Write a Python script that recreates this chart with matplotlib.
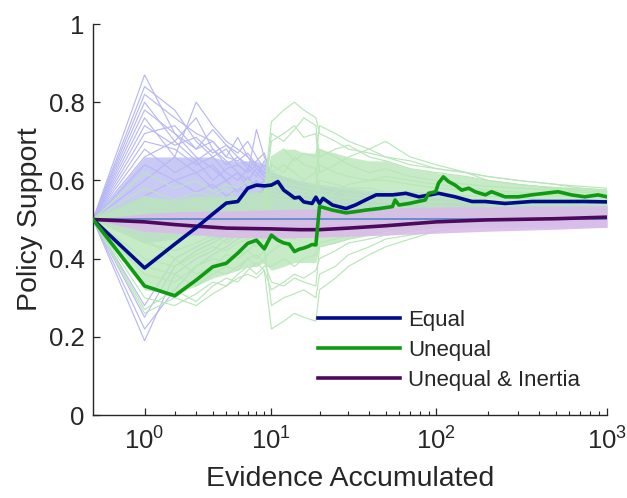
import numpy as np
import matplotlib
matplotlib.use("Agg")
import matplotlib.pyplot as plt
from matplotlib.ticker import FixedLocator, FixedFormatter

plt.rcParams['font.family'] = ['Liberation Sans', 'DejaVu Sans']
plt.rcParams['mathtext.default'] = 'regular'

# ---------------- data ----------------
# light "Equal" simulation traces
LX = [0, 1, 2, 3, 4, 5, 6, 7, 8, 9, 10, 15, 20, 30, 50, 100, 200, 500, 1000]
equal_sims = [
    [0.5, 0.87, 0.72, 0.66, 0.63, 0.60, 0.62, 0.58, 0.60, 0.57, 0.58, 0.56, 0.55, 0.55, 0.54, 0.53, 0.53, 0.52, 0.52],
    [0.5, 0.84, 0.78, 0.70, 0.66, 0.68, 0.64, 0.62, 0.64, 0.61, 0.60, 0.58, 0.57, 0.56, 0.55, 0.54, 0.54, 0.53, 0.53],
    [0.5, 0.80, 0.70, 0.76, 0.68, 0.65, 0.62, 0.60, 0.58, 0.60, 0.58, 0.57, 0.56, 0.55, 0.55, 0.54, 0.53, 0.53, 0.52],
    [0.5, 0.76, 0.66, 0.80, 0.74, 0.70, 0.68, 0.66, 0.63, 0.64, 0.62, 0.59, 0.58, 0.57, 0.56, 0.55, 0.54, 0.53, 0.53],
    [0.5, 0.72, 0.74, 0.68, 0.70, 0.66, 0.71, 0.66, 0.64, 0.62, 0.60, 0.58, 0.57, 0.56, 0.55, 0.54, 0.53, 0.53, 0.52],
    [0.5, 0.68, 0.62, 0.65, 0.60, 0.63, 0.64, 0.62, 0.73, 0.66, 0.62, 0.59, 0.58, 0.56, 0.55, 0.54, 0.54, 0.53, 0.53],
    [0.5, 0.64, 0.60, 0.62, 0.58, 0.60, 0.57, 0.61, 0.58, 0.59, 0.57, 0.56, 0.55, 0.54, 0.54, 0.53, 0.53, 0.52, 0.52],
    [0.5, 0.60, 0.66, 0.62, 0.64, 0.60, 0.62, 0.60, 0.63, 0.61, 0.60, 0.58, 0.57, 0.56, 0.55, 0.54, 0.53, 0.53, 0.52],
    [0.5, 0.56, 0.60, 0.57, 0.59, 0.56, 0.58, 0.57, 0.56, 0.58, 0.56, 0.55, 0.55, 0.54, 0.53, 0.53, 0.52, 0.52, 0.52],
    [0.5, 0.19, 0.36, 0.40, 0.42, 0.45, 0.46, 0.47, 0.48, 0.48, 0.49, 0.49, 0.49, 0.49, 0.49, 0.50, 0.50, 0.50, 0.50],
    [0.5, 0.22, 0.32, 0.38, 0.41, 0.43, 0.45, 0.46, 0.46, 0.47, 0.48, 0.48, 0.48, 0.49, 0.49, 0.49, 0.49, 0.50, 0.50],
    [0.5, 0.25, 0.38, 0.42, 0.44, 0.46, 0.47, 0.48, 0.48, 0.49, 0.49, 0.49, 0.49, 0.49, 0.49, 0.49, 0.49, 0.50, 0.50],
    [0.5, 0.70, 0.68, 0.64, 0.66, 0.62, 0.60, 0.63, 0.61, 0.65, 0.60, 0.58, 0.57, 0.56, 0.55, 0.54, 0.53, 0.53, 0.52],
    [0.5, 0.78, 0.72, 0.68, 0.73, 0.69, 0.66, 0.64, 0.62, 0.60, 0.59, 0.58, 0.57, 0.56, 0.55, 0.54, 0.53, 0.53, 0.52],
    [0.5, 0.82, 0.76, 0.72, 0.70, 0.66, 0.65, 0.67, 0.64, 0.62, 0.61, 0.59, 0.58, 0.57, 0.56, 0.55, 0.54, 0.53, 0.53],
    [0.5, 0.74, 0.69, 0.71, 0.67, 0.69, 0.67, 0.70, 0.66, 0.63, 0.61, 0.59, 0.58, 0.57, 0.56, 0.55, 0.54, 0.53, 0.53],
    [0.5, 0.66, 0.70, 0.65, 0.68, 0.64, 0.66, 0.63, 0.65, 0.67, 0.61, 0.59, 0.58, 0.57, 0.56, 0.55, 0.54, 0.53, 0.53],
    [0.5, 0.28, 0.40, 0.43, 0.45, 0.46, 0.47, 0.47, 0.48, 0.48, 0.48, 0.49, 0.49, 0.49, 0.49, 0.49, 0.50, 0.50, 0.50],
]
equal_band_lo = [0.5, 0.44, 0.45, 0.46, 0.47, 0.47, 0.48, 0.48, 0.48, 0.48, 0.48, 0.48, 0.48, 0.48, 0.48, 0.48, 0.48, 0.48, 0.48]
equal_band_hi = [0.5, 0.66, 0.66, 0.66, 0.66, 0.65, 0.65, 0.65, 0.65, 0.64, 0.62, 0.60, 0.59, 0.58, 0.57, 0.56, 0.55, 0.545, 0.54]

# light "Unequal" simulation traces
GX = [0, 1, 2, 3, 4, 5, 6, 7, 8, 9, 10, 12, 14, 16, 19, 20, 25, 30, 40, 50, 70, 100, 150, 200, 300, 500, 700, 1000]
unequal_sims = [
    [0.5, 0.62, 0.58, 0.60, 0.57, 0.59, 0.58, 0.60, 0.58, 0.57, 0.75, 0.78, 0.80, 0.78, 0.76, 0.72, 0.70, 0.68, 0.67, 0.66, 0.64, 0.63, 0.62, 0.61, 0.60, 0.59, 0.585, 0.58],
    [0.5, 0.58, 0.55, 0.57, 0.56, 0.58, 0.55, 0.57, 0.56, 0.55, 0.70, 0.72, 0.74, 0.71, 0.72, 0.62, 0.64, 0.66, 0.68, 0.70, 0.66, 0.64, 0.62, 0.60, 0.59, 0.58, 0.575, 0.57],
    [0.5, 0.55, 0.50, 0.53, 0.55, 0.52, 0.54, 0.56, 0.53, 0.54, 0.66, 0.68, 0.65, 0.67, 0.66, 0.74, 0.72, 0.70, 0.68, 0.66, 0.65, 0.63, 0.62, 0.61, 0.60, 0.59, 0.58, 0.575],
    [0.5, 0.52, 0.48, 0.50, 0.52, 0.49, 0.51, 0.53, 0.50, 0.52, 0.62, 0.64, 0.62, 0.60, 0.62, 0.68, 0.66, 0.64, 0.62, 0.63, 0.61, 0.60, 0.59, 0.585, 0.58, 0.575, 0.57, 0.565],
    [0.5, 0.48, 0.45, 0.47, 0.49, 0.46, 0.48, 0.50, 0.47, 0.49, 0.58, 0.60, 0.58, 0.57, 0.59, 0.64, 0.62, 0.61, 0.60, 0.60, 0.59, 0.58, 0.575, 0.57, 0.565, 0.56, 0.56, 0.555],
    [0.5, 0.44, 0.42, 0.44, 0.46, 0.44, 0.46, 0.47, 0.45, 0.47, 0.55, 0.57, 0.55, 0.56, 0.57, 0.60, 0.59, 0.58, 0.58, 0.57, 0.57, 0.565, 0.56, 0.56, 0.555, 0.55, 0.55, 0.55],
    [0.5, 0.40, 0.38, 0.41, 0.43, 0.42, 0.44, 0.45, 0.43, 0.45, 0.50, 0.52, 0.50, 0.51, 0.53, 0.56, 0.55, 0.56, 0.55, 0.55, 0.55, 0.545, 0.545, 0.54, 0.54, 0.54, 0.54, 0.54],
    [0.5, 0.36, 0.34, 0.38, 0.40, 0.39, 0.41, 0.42, 0.40, 0.42, 0.46, 0.47, 0.45, 0.47, 0.48, 0.52, 0.51, 0.52, 0.52, 0.53, 0.53, 0.53, 0.53, 0.53, 0.53, 0.53, 0.53, 0.53],
    [0.5, 0.33, 0.30, 0.34, 0.37, 0.36, 0.38, 0.40, 0.38, 0.40, 0.42, 0.44, 0.42, 0.43, 0.44, 0.48, 0.48, 0.49, 0.50, 0.50, 0.51, 0.51, 0.51, 0.52, 0.52, 0.52, 0.52, 0.52],
    [0.5, 0.30, 0.28, 0.31, 0.34, 0.33, 0.36, 0.38, 0.36, 0.38, 0.38, 0.40, 0.38, 0.40, 0.41, 0.44, 0.45, 0.46, 0.47, 0.48, 0.49, 0.49, 0.50, 0.50, 0.51, 0.51, 0.51, 0.51],
    [0.5, 0.27, 0.32, 0.29, 0.33, 0.35, 0.34, 0.37, 0.39, 0.37, 0.32, 0.34, 0.36, 0.35, 0.37, 0.40, 0.42, 0.44, 0.45, 0.46, 0.47, 0.48, 0.49, 0.49, 0.50, 0.50, 0.50, 0.505],
    [0.5, 0.26, 0.30, 0.28, 0.31, 0.33, 0.35, 0.36, 0.35, 0.37, 0.22, 0.24, 0.26, 0.25, 0.24, 0.32, 0.35, 0.38, 0.41, 0.43, 0.45, 0.47, 0.48, 0.49, 0.49, 0.50, 0.50, 0.50],
    [0.5, 0.45, 0.40, 0.36, 0.38, 0.41, 0.40, 0.42, 0.44, 0.43, 0.28, 0.30, 0.31, 0.32, 0.30, 0.36, 0.38, 0.41, 0.43, 0.45, 0.46, 0.47, 0.48, 0.49, 0.49, 0.50, 0.50, 0.50],
    [0.5, 0.50, 0.46, 0.49, 0.45, 0.47, 0.49, 0.46, 0.48, 0.50, 0.64, 0.62, 0.66, 0.64, 0.63, 0.55, 0.57, 0.59, 0.60, 0.61, 0.60, 0.59, 0.58, 0.575, 0.57, 0.565, 0.56, 0.56],
    [0.5, 0.38, 0.36, 0.33, 0.36, 0.38, 0.37, 0.40, 0.41, 0.39, 0.34, 0.33, 0.35, 0.34, 0.33, 0.43, 0.44, 0.45, 0.46, 0.47, 0.48, 0.49, 0.49, 0.50, 0.50, 0.50, 0.51, 0.51],
    [0.5, 0.56, 0.52, 0.55, 0.51, 0.54, 0.52, 0.55, 0.57, 0.56, 0.72, 0.70, 0.73, 0.76, 0.74, 0.66, 0.68, 0.69, 0.66, 0.65, 0.63, 0.62, 0.61, 0.60, 0.59, 0.58, 0.58, 0.575],
]
unequal_band_lo = [0.5, 0.32, 0.31, 0.33, 0.35, 0.36, 0.37, 0.38, 0.38, 0.39, 0.37, 0.38, 0.39, 0.39, 0.39, 0.43, 0.44, 0.45, 0.46, 0.47, 0.47, 0.48, 0.49, 0.49, 0.50, 0.50, 0.50, 0.50]
unequal_band_hi = [0.5, 0.56, 0.55, 0.56, 0.56, 0.56, 0.56, 0.57, 0.57, 0.57, 0.66, 0.68, 0.68, 0.67, 0.67, 0.68, 0.67, 0.66, 0.65, 0.65, 0.63, 0.62, 0.61, 0.60, 0.59, 0.585, 0.58, 0.575]

# light "Unequal & Inertia" simulation band
PX = [0, 1, 2, 5, 10, 20, 50, 100, 200, 500, 1000]
inertia_band_lo = [0.5, 0.47, 0.465, 0.455, 0.452, 0.455, 0.46, 0.465, 0.47, 0.475, 0.48]
inertia_band_hi = [0.5, 0.515, 0.52, 0.522, 0.525, 0.528, 0.53, 0.532, 0.533, 0.535, 0.535]

# mean lines
equal_x = [0, 1, 2, 3, 4, 5, 6, 7, 8, 9, 10, 11, 12, 13, 14, 15, 16, 17, 18, 19, 20, 21, 24, 29, 33, 38, 44,
           55, 66, 79, 103, 129, 162, 194, 253, 362, 518, 741, 1000]
equal_y = [0.5, 0.376, 0.437, 0.479, 0.514, 0.542, 0.546, 0.58, 0.588, 0.586, 0.588, 0.597, 0.575, 0.565, 0.555,
           0.557, 0.545, 0.543, 0.541, 0.557, 0.541, 0.554, 0.537, 0.528, 0.537, 0.55, 0.563, 0.563, 0.567, 0.558,
           0.567, 0.558, 0.546, 0.546, 0.541, 0.546, 0.546, 0.546, 0.545]

unequal_x = [0, 1, 2, 3, 4, 5, 6, 7, 8, 9, 10, 11, 12, 13, 14, 15, 16, 17, 18, 19, 20, 21, 24, 29, 33, 38, 46,
             55, 57, 60, 69, 86, 90, 99, 103, 110, 118, 129, 141, 155, 169, 194, 211, 253, 303, 362, 433, 518,
             619, 741, 886, 1000]
unequal_y = [0.5, 0.330, 0.305, 0.345, 0.379, 0.388, 0.414, 0.439, 0.447, 0.425, 0.46, 0.447, 0.44, 0.437, 0.418,
             0.424, 0.427, 0.431, 0.436, 0.435, 0.533, 0.531, 0.524, 0.517, 0.520, 0.524, 0.528, 0.533, 0.550,
             0.537, 0.541, 0.550, 0.567, 0.571, 0.593, 0.609, 0.597, 0.588, 0.575, 0.580, 0.571, 0.563, 0.571,
             0.558, 0.558, 0.563, 0.567, 0.571, 0.563, 0.558, 0.563, 0.558]

inertia_x = [0, 1, 2, 3, 5, 7, 10, 15, 20, 30, 50, 100, 200, 500, 1000]
inertia_y = [0.5, 0.494, 0.487, 0.483, 0.478, 0.477, 0.476, 0.474, 0.474, 0.478, 0.484, 0.494, 0.499, 0.502, 0.506]

reference_level = 0.5

labels = ['Equal', 'Unequal', 'Unequal & Inertia']
x_ticks = [1, 10, 100, 1000]
x_tick_labels = ['$10^0$', '$10^1$', '$10^2$', '$10^3$']
y_ticks = [0, 0.2, 0.4, 0.6, 0.8, 1]
y_tick_labels = ['0', '0.2', '0.4', '0.6', '0.8', '1']

# ---------------- colours ----------------
c_equal_light = '#b8b8f4'
c_unequal_light = '#b9e6b9'
c_inertia_light = '#d9bce8'
c_equal = '#000a8c'
c_unequal = '#0f9a12'
c_inertia = '#4d0a5c'
c_ref = '#4a80c8'

fig = plt.figure(figsize=(6.27, 4.98), dpi=100)
ax = fig.add_axes([93 / 627, 83 / 498, 514 / 627, 391 / 498])
ax.set_xscale('function', functions=(lambda x: np.log10(np.asarray(x) + 1.0),
                                     lambda y: 10.0 ** np.asarray(y) - 1.0))

# ensembles
ax.fill_between(LX, equal_band_lo, equal_band_hi, color=c_equal_light, alpha=0.75, lw=0, zorder=1)
for s in equal_sims:
    ax.plot(LX, s, color=c_equal_light, lw=0.85, zorder=1.5)
ax.fill_between(GX, unequal_band_lo, unequal_band_hi, color=c_unequal_light, alpha=0.8, lw=0, zorder=2)
for s in unequal_sims:
    ax.plot(GX, s, color=c_unequal_light, lw=0.85, zorder=2.5)
ax.fill_between(PX, inertia_band_lo, inertia_band_hi, color=c_inertia_light, alpha=0.9, lw=0, zorder=3)

ax.axhline(reference_level, color=c_ref, lw=1.1, zorder=3.5)

ax.plot(equal_x, equal_y, color=c_equal, lw=2.6, zorder=5, label=labels[0], solid_joinstyle='round')
ax.plot(unequal_x, unequal_y, color=c_unequal, lw=2.6, zorder=5, label=labels[1], solid_joinstyle='round')
ax.plot(inertia_x, inertia_y, color=c_inertia, lw=2.6, zorder=4.5, label=labels[2], solid_joinstyle='round')

ax.set_xlim(0, 1000)
ax.set_ylim(0, 1)
ax.xaxis.set_major_locator(FixedLocator(x_ticks))
ax.xaxis.set_major_formatter(FixedFormatter(x_tick_labels))
minor = [m * d for d in (1, 10, 100) for m in range(2, 10)]
ax.xaxis.set_minor_locator(FixedLocator(minor))
ax.yaxis.set_major_locator(FixedLocator(y_ticks))
ax.yaxis.set_major_formatter(FixedFormatter(y_tick_labels))

for sp in ('top', 'right'):
    ax.spines[sp].set_visible(False)
for sp in ('left', 'bottom'):
    ax.spines[sp].set_color('#262626')
    ax.spines[sp].set_linewidth(1.0)

ax.tick_params(axis='both', which='major', direction='in', length=5, width=0.9, color='#262626',
               labelsize=18.5, labelcolor='#262626', pad=6)
ax.tick_params(axis='x', which='minor', direction='in', length=3, width=0.8, color='#262626')
ax.tick_params(axis='x', which='major', pad=9)

ax.set_xlabel('Evidence Accumulated', fontsize=20.5, color='#262626', labelpad=8)
ax.set_ylabel('Policy Support', fontsize=20.5, color='#262626', labelpad=4)

leg = ax.legend(loc='upper left', bbox_to_anchor=((318 - 93) / 514, (415 - 310) / 391), frameon=False,
                fontsize=16, handlelength=3.7, handletextpad=0.35, labelspacing=0.4,
                borderpad=0, borderaxespad=0)
for t in leg.get_texts():
    t.set_color('#262626')

fig.savefig('out.png', dpi=100)
